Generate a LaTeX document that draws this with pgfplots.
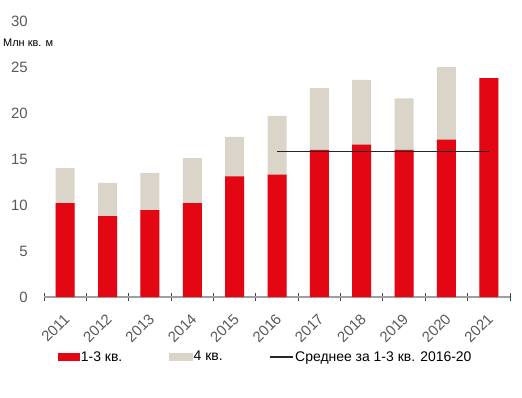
\documentclass[border=0pt]{standalone}
\usepackage{fontspec}
\setmainfont{Liberation Sans}
\usepackage{pgfplots}
\pgfplotsset{compat=1.18}
\definecolor{redq}{HTML}{E30613}
\definecolor{beigeq}{HTML}{DAD5C8}
\definecolor{tickgray}{HTML}{595959}
\newcommand\tfont{\fontsize{14}{16}\selectfont}
\newcommand\kfont{\fontsize{15}{17}\selectfont}
\begin{document}
\begin{tikzpicture}[x=1bp,y=1bp]
\useasboundingbox (0,0) rectangle (522,397);
\begin{axis}[
  at={(44bp,100bp)}, anchor=south west,
  width=466bp, height=276bp, scale only axis,
  xmin=-0.5, xmax=10.5, ymin=0, ymax=30,
  /pgf/number format/assume math mode=true,
  axis x line*=bottom, axis y line*=left,
  y axis line style={draw=none},
  x axis line style={color=gray!75, line width=1.3bp},
  ytick={0,5,...,30},
  ytick style={draw=none},
  yticklabel style={font=\kfont, color=tickgray, anchor=east, inner sep=0pt, xshift=-14bp},
  xtick={0,...,10},
  xticklabels={2011,2012,2013,2014,2015,2016,2017,2018,2019,2020,2021},
  major x tick style={draw=none},
  minor xtick={-0.5,0.5,...,10.5},
  minor tick length=8bp, tick align=center,
  minor x tick style={color=black!75, line width=1bp},
  xticklabel style={font=\kfont, color=tickgray, rotate=45, anchor=north east, inner sep=0pt, xshift=-11bp, yshift=-8bp},
  legend style={draw=none, fill=none, inner sep=0pt, outer sep=0pt, anchor=west,
    at={(0.030,-0.217)}, font=\tfont, text=black,
    nodes={inner sep=1.5bp},
    /tikz/every even column/.append style={column sep=45bp}},
  legend columns=3, legend cell align=left,
]
% totals (1-3 kv. + 4 kv.)
\addplot[ybar, bar width=19bp, bar shift=0pt, fill=beigeq, draw=none, forget plot]
  coordinates {(0,14.0) (1,12.4) (2,13.5) (3,15.1) (4,17.4) (5,19.7) (6,22.7) (7,23.6) (8,21.6) (9,25.0) (10,23.8)};
% 1-3 kv.
\addplot[ybar, bar width=19bp, bar shift=0pt, fill=redq, draw=none, forget plot]
  coordinates {(0,10.2) (1,8.8) (2,9.45) (3,10.2) (4,13.1) (5,13.3) (6,16.0) (7,16.55) (8,16.0) (9,17.1) (10,23.8)};
% average
\addplot[black!85, line width=1.5bp, forget plot]
  coordinates {(5,15.8) (10,15.8)};
\addlegendimage{legend image code/.code={\fill[redq] (0bp,-3.5bp) rectangle (21bp,3.5bp);}}
\addlegendimage{legend image code/.code={\fill[beigeq] (0bp,-3.5bp) rectangle (23bp,3.5bp);}}
\addlegendimage{legend image code/.code={\draw[black!85, line width=1.5bp] (0bp,0bp) -- (23bp,0bp);}}
\legend{1-3 кв.,4 кв.,Среднее за 1-3 кв. 2016-20}
\end{axis}
\node[anchor=west, inner sep=0pt, font=\fontsize{11}{13}\selectfont] at (3,354) {Млн кв. м};
\end{tikzpicture}
\end{document}
